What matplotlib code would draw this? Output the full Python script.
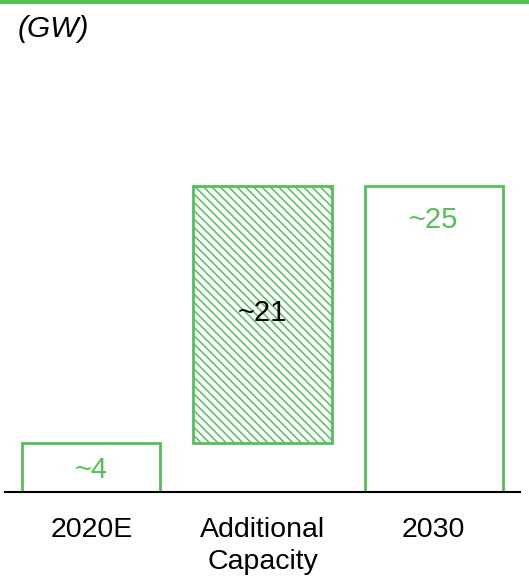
import matplotlib.pyplot as plt
from matplotlib.lines import Line2D

plt.rcParams['font.family'] = ['Liberation Sans', 'DejaVu Sans']
plt.rcParams['hatch.linewidth'] = 1.1

# capacity bridge (GW)
categories = ['2020E', 'Additional\nCapacity', '2030']
bottoms = [0, 4, 0]
heights = [4, 21, 25]
labels = ['~4', '~21', '~25']
label_colors = ['#55c05a', 'black', '#55c05a']
hatches = [None, '\\' * 4, None]

green = '#55c05a'

fig = plt.figure(figsize=(5.29, 5.84), dpi=100)
ax = fig.add_axes([5 / 529, 92 / 584, 515 / 529, 30 * 12.24 / 584])

x = range(len(categories))
for i in x:
    ax.bar(i, heights[i], bottom=bottoms[i], width=0.807, facecolor='white',
           edgecolor=green, linewidth=2, hatch=hatches[i])

# value labels
label_y = [1.8, 14.6, 22.2]
for i in x:
    ax.text(i, label_y[i], labels[i], ha='center', va='center',
            fontsize=21, color=label_colors[i])

ax.set_xlim(-0.505, 2.505)
ax.set_ylim(0, 30)
ax.set_xticks(list(x))
ax.set_xticklabels(categories, fontsize=20.5, linespacing=1.3)
ax.tick_params(axis='x', length=0, pad=18)
ax.set_yticks([])
for s in ['left', 'right', 'top']:
    ax.spines[s].set_visible(False)
ax.spines['bottom'].set_linewidth(1.5)
ax.spines['bottom'].set_color('black')

# unit and top rule
fig.text(18 / 529, 1 - 29 / 584, '(GW)', fontsize=21.5, style='italic',
         ha='left', va='center')
fig.add_artist(Line2D([0, 1], [1 - 1.5 / 584, 1 - 1.5 / 584], color=green,
                      linewidth=3, transform=fig.transFigure))

fig.savefig('out.png', dpi=100)
